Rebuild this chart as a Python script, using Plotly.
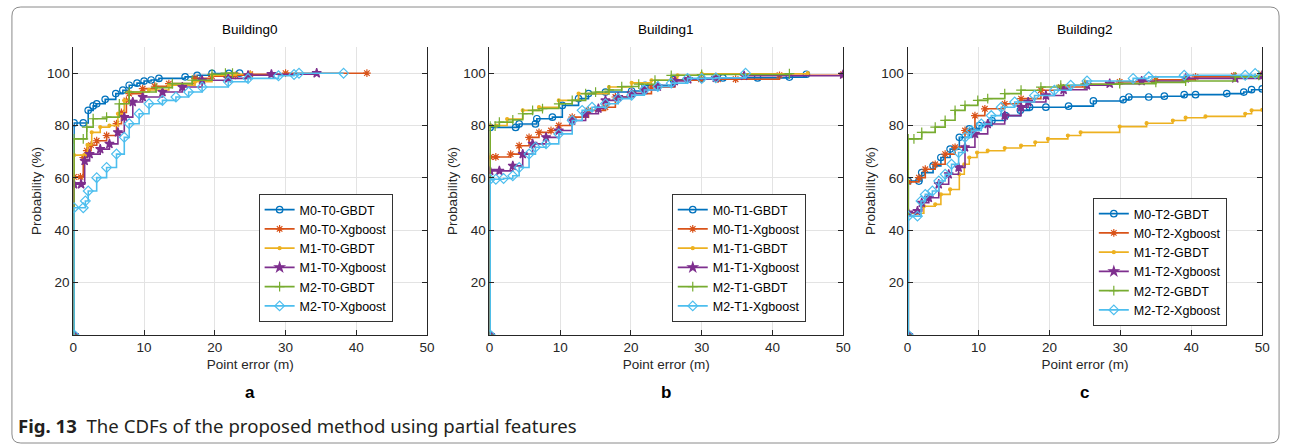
import plotly.graph_objects as go

W, H = 1295, 448

# ---------------- data ----------------
BUILDINGS = ["Building0", "Building1", "Building2"]
PANEL_LETTERS = ["a", "b", "c"]
TAGS = ["T0", "T1", "T2"]
X_TICKS = [0, 10, 20, 30, 40, 50]
Y_TICKS = [20, 40, 60, 80, 100]

# Building0
A_M0_GBDT_X = [0.1, 0.1, 1.4, 2.1, 2.8, 3.3, 4.5, 6.0, 7.0, 7.9, 9.0, 10.0, 11.0, 12.1, 15.8, 17.5, 19.6, 22.0, 23.5]
A_M0_GBDT_Y = [0, 81, 81, 85.8, 87.5, 88.3, 90, 92.2, 93.5, 95.4, 96.2, 97, 97.4, 98, 98.6, 99.2, 99.9, 99.9, 100]
A_M0_XGB_X = [0.1, 0.1, 1.0, 1.4, 1.9, 2.5, 3.3, 4.7, 6.1, 6.8, 7.5, 7.9, 9.8, 11.5, 13.5, 17.2, 19.6, 22.9, 25.0, 30.0, 41.5]
A_M0_XGB_Y = [0, 60.4, 60.4, 67.8, 70.4, 72.5, 74.2, 76.2, 80.7, 85, 89.6, 92.2, 94.1, 95, 96, 98, 98.8, 99.2, 99.6, 100, 100]
A_M1_GBDT_X = [0.1, 0.1, 1.6, 2.0, 2.6, 3.8, 5.1, 6.3, 7.2, 7.9, 10.7, 13.5, 17.2, 19.6, 22.9, 25.0]
A_M1_GBDT_Y = [0, 68.7, 68.7, 72.6, 77.4, 79.4, 80, 84.5, 89.6, 92.8, 93.6, 95.4, 96.7, 99.2, 99.6, 100]
A_M1_XGB_X = [0.1, 0.1, 1.1, 1.6, 2.3, 3.8, 5.1, 6.3, 7.2, 8.4, 9.8, 12.6, 15.4, 18.2, 21.9, 24.7, 28.0, 34.4]
A_M1_XGB_Y = [0, 57.6, 57.6, 66.5, 69.1, 71, 73, 77.4, 83.2, 89, 90.9, 92.8, 94.7, 97.3, 98, 99.2, 99.6, 100]
A_M2_GBDT_X = [0.1, 0.1, 1.4, 1.9, 2.8, 4.7, 6.5, 7.9, 11.7, 14.0, 16.8, 19.6, 21.5, 22.5]
A_M2_GBDT_Y = [0, 74.9, 74.9, 79.4, 82.6, 83.2, 88.3, 92.8, 94.5, 96, 97.3, 99.6, 100, 100]
A_M2_XGB_X = [0.1, 0.1, 1.4, 1.7, 2.1, 3.3, 4.7, 6.1, 7.2, 7.9, 9.3, 10.7, 12.6, 14.5, 16.3, 18.2, 21.9, 24.7, 29.0, 31.2, 31.9, 38.2]
A_M2_XGB_Y = [0, 48.6, 48.6, 51.2, 55, 60.1, 64, 69.1, 75.5, 80.7, 84.5, 88.3, 89.6, 90.9, 92.8, 94.7, 96.7, 98, 99, 99.5, 100, 100]

# Building1
B_M0_GBDT_X = [0.1, 0.1, 3.7, 4.2, 6.5, 6.7, 8.9, 10.3, 12.6, 14.0, 16.4, 20.1, 22.0, 26.0, 30.0, 33.0, 37.9, 42.4, 44.8]
B_M0_GBDT_Y = [0, 79.3, 79.3, 80.6, 80.6, 82.6, 83.2, 87.7, 90.3, 92.2, 92.8, 93.2, 95.4, 97.5, 98, 98.2, 98.2, 98.5, 99.6]
B_M0_XGB_X = [0.1, 0.1, 0.9, 3.0, 4.2, 5.6, 7.0, 8.7, 9.8, 11.7, 14.0, 16.4, 17.8, 20.1, 22.9, 26.2, 29.9, 32.3, 34.8, 41.0, 50]
B_M0_XGB_Y = [0, 68, 68, 69.1, 72.3, 75.5, 77.4, 78.1, 80, 83.2, 85.8, 87, 90.9, 92.2, 94.7, 97.3, 97.7, 97.7, 97.7, 99.2, 99.6]
B_M1_GBDT_X = [0.1, 0.1, 1.0, 2.5, 4.7, 7.0, 9.8, 12.6, 16.9, 20.1, 22.9, 26.6, 30, 45]
B_M1_GBDT_Y = [0, 80, 80, 82.5, 85.8, 87, 89.6, 92.2, 94.7, 96.3, 97.3, 99.2, 99.8, 100]
B_M1_XGB_X = [0.1, 0.1, 1.4, 3.3, 4.7, 6.1, 8.0, 9.8, 11.7, 13.6, 15.4, 16.4, 18.2, 20.1, 21.9, 23.8, 26.2, 28.1, 32, 36, 50]
B_M1_XGB_Y = [0, 62.7, 62.7, 64.6, 69.1, 73, 75.5, 78.1, 81.9, 84.5, 86.5, 89.6, 90.9, 92.2, 93.6, 94.9, 97, 97.7, 98.2, 99, 99.5]
B_M2_GBDT_X = [0.1, 0.1, 0.8, 1.4, 3.3, 4.7, 6.1, 7.5, 9.8, 11.7, 13.6, 15.0, 16.9, 18.7, 21.1, 23.4, 25.7, 30, 42.4]
B_M2_GBDT_Y = [0, 79.8, 79.8, 81.3, 82.2, 84.5, 85.8, 86.5, 88.3, 89.6, 92.2, 92.8, 93.6, 94.9, 95.8, 97.3, 99.2, 99.5, 99.8]
B_M2_XGB_X = [0.1, 0.1, 0.9, 2.0, 3.3, 4.2, 5.6, 6.5, 8.0, 9.8, 11.7, 13.1, 14.5, 16.4, 18.2, 20.1, 21.9, 23.8, 25.7, 28.0, 30.0, 32.0, 36.2]
B_M2_XGB_Y = [0, 59.5, 59.5, 59.8, 60.8, 64, 69.1, 71.7, 73, 76.8, 81.9, 85.8, 87, 88.3, 90.3, 91.6, 93.6, 94.9, 96.2, 98, 98, 98.2, 100]

# Building2
C_M0_GBDT_X = [0.1, 0.1, 1.6, 2.0, 3.6, 4.7, 6.0, 7.3, 8.7, 10.1, 11.9, 13.8, 15.9, 17.2, 19.5, 22.7, 26.2, 30.4, 31.2, 34.0, 36.2, 39.0, 40.6, 45.0, 47.4, 48.5, 50]
C_M0_GBDT_Y = [0, 58.8, 58.8, 62, 64.6, 67.8, 71, 75.5, 78.7, 80, 81.9, 83.8, 85.8, 87, 87, 87.4, 89.4, 89.9, 90.9, 90.9, 91.2, 91.8, 91.8, 92.2, 92.8, 93.7, 94]
C_M0_XGB_X = [0.1, 0.1, 1.6, 2.5, 3.9, 5.3, 6.7, 8.1, 9.5, 10.9, 13.7, 16.0, 18.8, 21.6, 25.0, 29.9, 35, 40.6, 46, 50]
C_M0_XGB_Y = [0, 58.5, 60.1, 63.3, 65.2, 69.1, 71.7, 78.1, 83.8, 86.4, 88.3, 90.3, 93.5, 94.7, 95.8, 96.7, 97.5, 98.6, 99, 99.5]
C_M1_GBDT_X = [0.1, 0.1, 1.3, 2.3, 3.9, 4.7, 6.0, 7.3, 8.0, 8.7, 9.8, 11.3, 13.7, 16.0, 18.0, 19.8, 22.6, 24.4, 29.9, 33.7, 37.4, 39.2, 42.0, 47.6, 48.5, 50]
C_M1_GBDT_Y = [0, 46.5, 46.5, 49.2, 49.9, 53.7, 55.6, 61.4, 65.2, 67.8, 69.7, 70.4, 71.4, 72.3, 73.6, 74.9, 76.2, 77.4, 79.6, 80.9, 81.9, 83, 83.5, 84.5, 85.8, 86]
C_M1_XGB_X = [0.1, 0.1, 1.4, 2.0, 3.0, 4.4, 5.8, 7.2, 8.1, 9.5, 11.3, 13.7, 16.0, 17.0, 19.5, 22.0, 25.3, 28.5, 33, 39.2, 46.2, 50]
C_M1_XGB_Y = [0, 46.7, 47.3, 50.5, 52.4, 57.6, 61.4, 64, 71.7, 76.8, 80.6, 83.8, 87, 89, 91.5, 93.7, 95.4, 96, 97, 98, 98, 99.2]
C_M2_GBDT_X = [0.1, 0.1, 0.9, 2.0, 3.9, 5.3, 6.7, 8.1, 9.9, 11.3, 13.7, 16.0, 18.8, 21.6, 25.0, 29.9, 35, 39.2, 46.2, 49.5]
C_M2_GBDT_Y = [0, 74.9, 74.9, 77.4, 79.4, 82, 85.8, 87.7, 89.6, 90.3, 92.2, 93.5, 94.7, 95.4, 95.8, 96, 96.5, 97, 98.6, 99.2]
C_M2_XGB_X = [0.1, 0.1, 1.4, 1.9, 2.5, 3.5, 4.4, 5.3, 6.2, 7.2, 8.1, 9.0, 10.4, 11.8, 13.2, 15.1, 17.9, 20.7, 23.0, 25.3, 31.8, 34.0, 39.0, 47.6, 49.0]
C_M2_XGB_Y = [0, 45.4, 45.4, 51.2, 53.7, 55, 58.8, 61.4, 65.2, 69.7, 75.5, 78.1, 80.6, 83.8, 87, 89, 91.5, 93.5, 95.4, 97, 98, 98.6, 99.2, 99.2, 99.9]

PANELS = [
    [(A_M0_GBDT_X, A_M0_GBDT_Y), (A_M0_XGB_X, A_M0_XGB_Y), (A_M1_GBDT_X, A_M1_GBDT_Y),
     (A_M1_XGB_X, A_M1_XGB_Y), (A_M2_GBDT_X, A_M2_GBDT_Y), (A_M2_XGB_X, A_M2_XGB_Y)],
    [(B_M0_GBDT_X, B_M0_GBDT_Y), (B_M0_XGB_X, B_M0_XGB_Y), (B_M1_GBDT_X, B_M1_GBDT_Y),
     (B_M1_XGB_X, B_M1_XGB_Y), (B_M2_GBDT_X, B_M2_GBDT_Y), (B_M2_XGB_X, B_M2_XGB_Y)],
    [(C_M0_GBDT_X, C_M0_GBDT_Y), (C_M0_XGB_X, C_M0_XGB_Y), (C_M1_GBDT_X, C_M1_GBDT_Y),
     (C_M1_XGB_X, C_M1_XGB_Y), (C_M2_GBDT_X, C_M2_GBDT_Y), (C_M2_XGB_X, C_M2_XGB_Y)],
]

# ---------------- styles ----------------
SERIES_STYLE = [
    ("M0-{}-GBDT", "#0072BD", "circle-open", 6.5),
    ("M0-{}-Xgboost", "#D95319", "asterisk-open", 6.5),
    ("M1-{}-GBDT", "#EDB120", "circle", 3),
    ("M1-{}-Xgboost", "#7E2F8E", "star", 7),
    ("M2-{}-GBDT", "#77AC30", "cross-thin-open", 7),
    ("M2-{}-Xgboost", "#4DBEEE", "diamond-open", 7.5),
]

FONT = "Liberation Sans, Arial, Helvetica, sans-serif"
INK = "#262626"

X_DOMAINS_PX = [(70, 427), (490, 847), (912, 1270)]
Y_TOP_PX, Y_BOT_PX = 47, 335
LEGEND_POS_PX = [(257, 194), (674, 194), (1099, 198)]


def px(x):
    return x / W


def py(y):
    return 1 - y / H


fig = go.Figure()

for p in range(3):
    ax_suffix = "" if p == 0 else str(p + 1)
    legend_name = "legend" if p == 0 else f"legend{p + 1}"
    for s, (xs, ys) in enumerate(PANELS[p]):
        name, color, symbol, msize = SERIES_STYLE[s]
        fig.add_trace(go.Scatter(
            x=xs, y=ys, mode="lines+markers",
            name=name.format(TAGS[p]),
            line=dict(color=color, width=1.6, shape="hv"),
            marker=dict(symbol=symbol, size=msize, color=color,
                        line=dict(color=color, width=1.2)),
            xaxis="x" + ax_suffix, yaxis="y" + ax_suffix,
            legend=legend_name, cliponaxis=True,
        ))

layout = dict(
    width=W, height=H, autosize=False,
    margin=dict(l=0, r=0, t=0, b=0),
    paper_bgcolor="white", plot_bgcolor="white",
    font=dict(family=FONT, color=INK, size=13),
    annotations=[], shapes=[],
)

for p in range(3):
    ax_suffix = "" if p == 0 else str(p + 1)
    x0, x1 = X_DOMAINS_PX[p]
    layout["xaxis" + ax_suffix] = dict(
        domain=[px(x0), px(x1)], range=[0, 50], anchor="y" + ax_suffix,
        tickvals=X_TICKS, ticks="inside", ticklen=5, tickcolor=INK,
        showline=True, linecolor=INK, linewidth=1, mirror=False,
        showgrid=True, gridcolor="#e3e3e3", gridwidth=1, zeroline=False,
        tickfont=dict(size=13.5, color=INK, family=FONT),
        title=dict(text="Point error (m)", font=dict(size=13.5, color=INK, family=FONT), standoff=5),
    )
    layout["yaxis" + ax_suffix] = dict(
        domain=[py(Y_BOT_PX), py(Y_TOP_PX)], range=[0, 110], anchor="x" + ax_suffix,
        tickvals=Y_TICKS, ticks="inside", ticklen=5, tickcolor=INK,
        showline=True, linecolor=INK, linewidth=1, mirror="ticks",
        showgrid=True, gridcolor="#e3e3e3", gridwidth=1, zeroline=False,
        tickfont=dict(size=13.5, color=INK, family=FONT),
        title=dict(text="Probability (%)", font=dict(size=13.5, color=INK, family=FONT), standoff=2),
    )
    lx, ly = LEGEND_POS_PX[p]
    legend_name = "legend" if p == 0 else f"legend{p + 1}"
    layout[legend_name] = dict(
        x=px(lx), y=py(ly), xanchor="left", yanchor="top",
        xref="paper", yref="paper",
        bgcolor="white", bordercolor="#333333", borderwidth=1,
        font=dict(size=12.5, color="#000000", family=FONT),
        tracegroupgap=0, itemwidth=30,
    )
    cx = (x0 + x1) / 2
    layout["annotations"].append(dict(
        text=BUILDINGS[p], x=px(cx), y=py(30), xref="paper", yref="paper",
        xanchor="center", yanchor="middle", showarrow=False,
        font=dict(size=13.5, color="#000000", family=FONT)))
    layout["annotations"].append(dict(
        text="<b>" + PANEL_LETTERS[p] + "</b>", x=px(cx), y=py(392), xref="paper", yref="paper",
        xanchor="center", yanchor="middle", showarrow=False,
        font=dict(size=17, color="#000000", family=FONT)))

layout["annotations"].append(dict(
    text="<b>Fig. 13</b>  The CDFs of the proposed method using partial features",
    x=px(12), y=py(425), xref="paper", yref="paper", xanchor="left", yanchor="middle",
    showarrow=False, font=dict(size=18.6, color="#231f20", family="Noto Sans, Open Sans, sans-serif")))

# rounded outer frame
L, R, T, B, r = 8, 1287, 7, 443, 9
path = (f"M {px(L + r)},{py(T)} L {px(R - r)},{py(T)} Q {px(R)},{py(T)} {px(R)},{py(T + r)} "
        f"L {px(R)},{py(B - r)} Q {px(R)},{py(B)} {px(R - r)},{py(B)} "
        f"L {px(L + r)},{py(B)} Q {px(L)},{py(B)} {px(L)},{py(B - r)} "
        f"L {px(L)},{py(T + r)} Q {px(L)},{py(T)} {px(L + r)},{py(T)} Z")
layout["shapes"].append(dict(type="path", path=path, xref="paper", yref="paper",
                             line=dict(color="#8a8a8a", width=1), layer="below"))

fig.update_layout(**layout)
fig.write_html("out.html")
